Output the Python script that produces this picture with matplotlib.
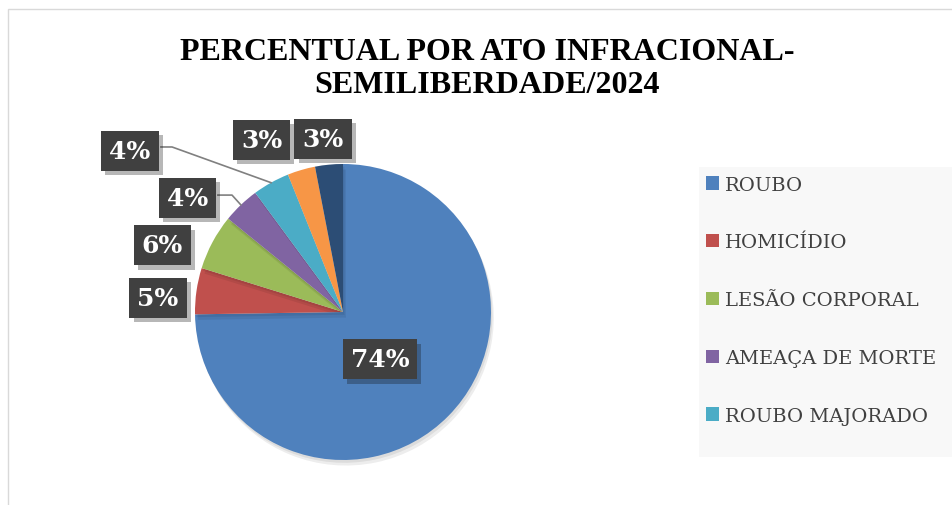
import numpy as np
import matplotlib.pyplot as plt
import matplotlib.patheffects as pe
from matplotlib.patches import Rectangle

# dados do grafico
categorias = ['ROUBO', 'HOMICÍDIO', 'LESÃO CORPORAL', 'AMEAÇA DE MORTE',
              'ROUBO MAJORADO', '', '']
percentuais = [74, 5, 6, 4, 4, 3, 3]
cores = ['#4F81BD', '#C0504D', '#9BBB59', '#8064A2', '#4BACC6', '#F79646', '#2C4D75']
titulo = 'PERCENTUAL POR ATO INFRACIONAL-\nSEMILIBERDADE/2024'

# posicao dos rotulos (em raios, relativo ao centro da pizza)
pos_rotulos = [(0.25, -0.32), (-1.25, 0.095), (-1.22, 0.45), (-1.05, 0.77),
               (-1.44, 1.09), (-0.55, 1.16), (-0.135, 1.17)]

W, H = 952, 506
cx, cy, R = 343, 313, 148  # centro e raio em pixels

fig = plt.figure(figsize=(W / 100, H / 100), dpi=100)
fig.patch.set_facecolor('white')

# borda da area do grafico
fig.add_artist(Rectangle((8 / W, -0.1), 1.2, 1 - 10 / H + 0.1, transform=fig.transFigure,
                         fill=False, edgecolor='#d9d9d9', linewidth=1, zorder=-2))
# fundo da legenda
fig.add_artist(Rectangle((699 / W, 1 - 458 / H), (W - 699) / W, 290 / H,
                         transform=fig.transFigure, facecolor='#f8f8f8', edgecolor='none',
                         zorder=-2))

ax = fig.add_axes([0, 0, 1, 1])
ax.patch.set_visible(False)
wedges, _ = ax.pie(percentuais, colors=cores, startangle=90, counterclock=False,
                   radius=1, center=(0, 0), wedgeprops=dict(linewidth=0))

ax.set_xlim(-cx / R, (W - cx) / R)
ax.set_ylim(-(H - cy) / R, cy / R)
ax.set_aspect('equal')
ax.axis('off')

leg = ax.legend(wedges[:5], categorias[:5], loc='upper left',
                bbox_to_anchor=(692 / W, 1 - 163 / H), bbox_transform=fig.transFigure,
                frameon=False, handlelength=0.7, handleheight=0.7,
                handletextpad=0.3, labelspacing=2.05, borderpad=0.2,
                prop=dict(family='DejaVu Serif', size=14))
for txt in leg.get_texts():
    txt.set_color('#404040')

# sombra suave da pizza (so nas fatias, nao na legenda)
for w in wedges:
    w.set_path_effects([pe.SimplePatchShadow(offset=(2, -4), shadow_rgbFace='#000000', alpha=0.07),
                        pe.SimplePatchShadow(offset=(1, -2), shadow_rgbFace='#000000', alpha=0.07),
                        pe.Normal()])

# linhas de chamada dos dois rotulos de 4%
chamadas = {4: [(-1.23, 1.115), (-1.155, 1.115)], 3: [(-0.845, 0.79), (-0.75, 0.79)]}
for i, pts in chamadas.items():
    ang = np.deg2rad((wedges[i].theta1 + wedges[i].theta2) / 2)
    xs = [p[0] for p in pts] + [np.cos(ang)]
    ys = [p[1] for p in pts] + [np.sin(ang)]
    ax.plot(xs, ys, color='#808080', linewidth=1.2, zorder=3)

for v, (x, y) in zip(percentuais, pos_rotulos):
    t = ax.text(x, y, f'{v}%', ha='center', va='center', color='white',
                fontsize=18, fontweight='bold', family='DejaVu Serif', zorder=5,
                bbox=dict(boxstyle='square,pad=0.32', facecolor='#404040',
                          edgecolor='none', linewidth=0))
    t.get_bbox_patch().set_path_effects([pe.SimplePatchShadow(offset=(3, -3), alpha=0.3),
                                         pe.Normal()])

fig.text(487 / W, 1 - 69 / H, titulo, ha='center', va='center', fontsize=23,
         fontweight='bold', family='Liberation Serif', linespacing=1.2)

fig.savefig('out.png', dpi=100)
